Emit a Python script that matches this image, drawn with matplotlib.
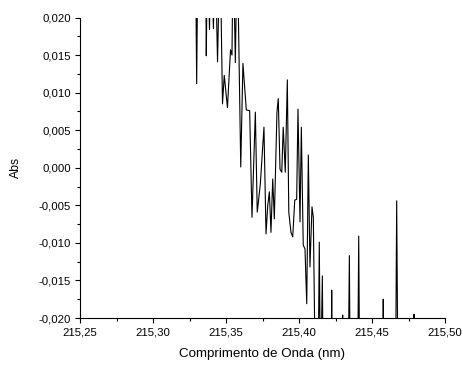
import matplotlib
matplotlib.use("Agg")
import matplotlib.pyplot as plt
from matplotlib.ticker import MultipleLocator, FuncFormatter

plt.rcParams['font.family'] = ['Liberation Sans', 'DejaVu Sans']

# espectro (valores fora da janela ficam cortados pelos eixos)
comprimento = [
    215.3253, 215.3291, 215.3299, 215.3308, 215.3360, 215.3365, 215.3373,
    215.3387, 215.3397, 215.3414, 215.3425, 215.3442, 215.3459, 215.3476,
    215.3488, 215.3510, 215.3531, 215.3541, 215.3549, 215.3564, 215.3577,
    215.3601, 215.3616, 215.3639, 215.3662, 215.3678, 215.3701, 215.3714,
    215.3735, 215.3760, 215.3774, 215.3786, 215.3797, 215.3808, 215.3820,
    215.3831, 215.3849, 215.3858, 215.3870, 215.3882, 215.3892, 215.3906,
    215.3920, 215.3930, 215.3945, 215.3957, 215.3971, 215.3984, 215.3993,
    215.4007, 215.4016, 215.4029, 215.4041, 215.4053, 215.4064, 215.4075,
    215.4089, 215.4098, 215.4113, 215.4130, 215.4139, 215.4147, 215.4160,
    215.4166, 215.4219, 215.4224, 215.4229, 215.4295, 215.4299, 215.4305,
    215.4336, 215.4345, 215.4351, 215.4401, 215.4409, 215.4416, 215.4572,
    215.4577, 215.4582, 215.4661, 215.4669, 215.4678, 215.4784, 215.4788,
    215.4791, 215.4829,
]
absorbancia = [
    0.0300, 0.0300, 0.0112, 0.0300, 0.0300, 0.0149, 0.0300,
    0.0184, 0.0300, 0.0185, 0.0300, 0.0141, 0.0300, 0.0085,
    0.0123, 0.0080, 0.0157, 0.0150, 0.0300, 0.0140, 0.0300,
    0.0001, 0.0139, 0.0077, 0.0076, -0.0066, 0.0074, -0.0059,
    -0.0022, 0.0054, -0.0088, -0.0050, -0.0032, -0.0086, -0.0015,
    -0.0068, 0.0074, 0.0092, -0.0002, -0.0006, 0.0054, -0.0006,
    0.0117, -0.0059, -0.0086, -0.0092, -0.0043, -0.0042, 0.0078,
    -0.0072, 0.0054, -0.0103, -0.0108, -0.0181, 0.0017, -0.0132,
    -0.0052, -0.0066, -0.0300, -0.0300, -0.0099, -0.0300, -0.0144,
    -0.0300, -0.0300, -0.0163, -0.0300, -0.0300, -0.0196, -0.0300,
    -0.0300, -0.0117, -0.0300, -0.0300, -0.0091, -0.0300, -0.0300,
    -0.0175, -0.0300, -0.0300, -0.0044, -0.0300, -0.0300, -0.0195,
    -0.0300, -0.0300,
]

fig = plt.figure(figsize=(4.63, 3.65), dpi=100)
ax = fig.add_axes([80 / 463, 1 - 318 / 365, 365 / 463, 300.5 / 365])

ax.plot(comprimento, absorbancia, color='black', linewidth=0.8)

ax.set_xlim(215.25, 215.50)
ax.set_ylim(-0.020, 0.020)

ax.xaxis.set_major_locator(MultipleLocator(0.05))
ax.xaxis.set_minor_locator(MultipleLocator(0.025))
ax.yaxis.set_major_locator(MultipleLocator(0.005))
ax.yaxis.set_minor_locator(MultipleLocator(0.0025))
ax.xaxis.set_major_formatter(FuncFormatter(lambda v, p: f"{v:.2f}".replace('.', ',')))
ax.yaxis.set_major_formatter(FuncFormatter(lambda v, p: f"{v:.3f}".replace('.', ',')))

for s in ['top', 'right']:
    ax.spines[s].set_visible(False)
for s in ['left', 'bottom']:
    ax.spines[s].set_linewidth(0.8)

ax.tick_params(which='major', direction='out', length=3.5, width=0.8, labelsize=8.2, pad=3)
ax.tick_params(which='minor', direction='out', length=2, width=0.8)

ax.set_xlabel('Comprimento de Onda (nm)', fontsize=9.6, labelpad=8)
ax.set_ylabel('Abs', fontsize=8.8, labelpad=12)

fig.savefig('out.png', dpi=100)
